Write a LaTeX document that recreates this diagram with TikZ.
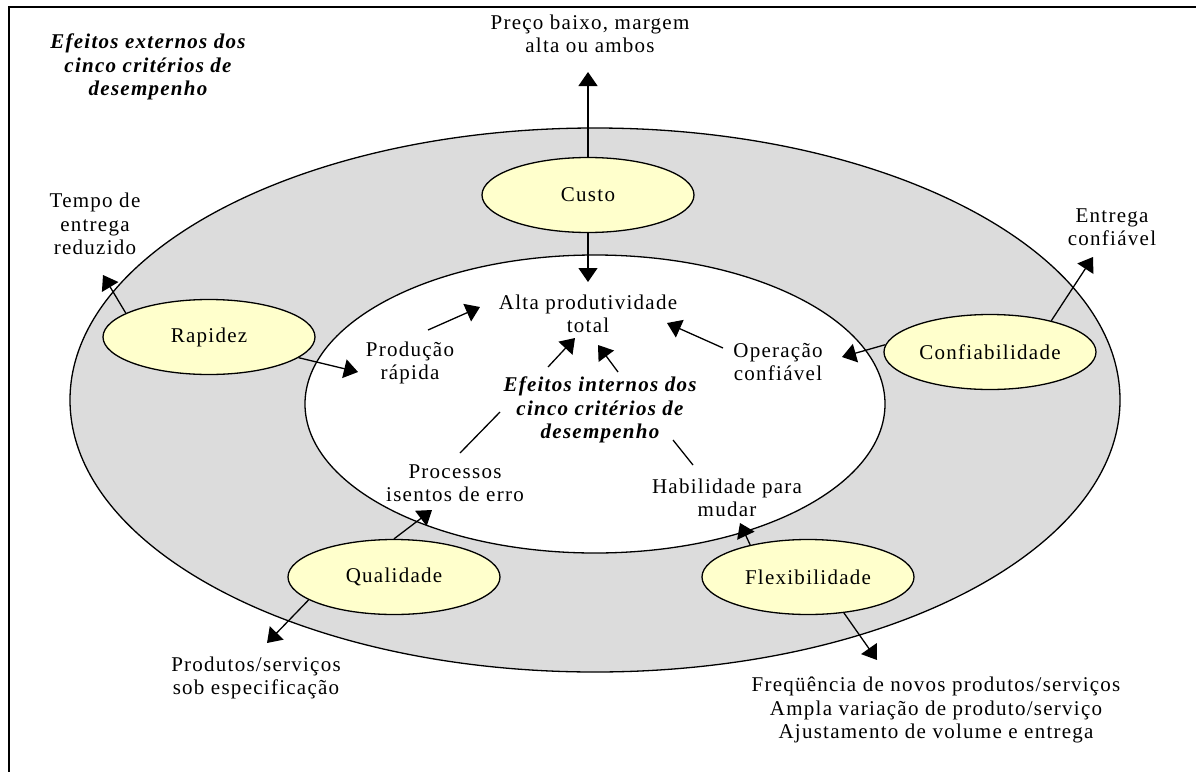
\documentclass[tikz,border=0pt]{standalone}
\usepackage{fontspec}
\setmainfont{Liberation Serif}[LetterSpace=6]
\usetikzlibrary{arrows.meta,shapes.geometric}
\definecolor{ringgray}{HTML}{DCDCDC}
\definecolor{critfill}{HTML}{FFFFCC}
\tikzset{
  crit/.style={ellipse, draw, line width=1.3pt, fill=critfill,
    minimum width=212pt, minimum height=75pt, inner sep=0pt,
    font=\fontsize{21}{23.3}\selectfont},
  lbl/.style={align=center, inner sep=0pt, font=\fontsize{21}{23.3}\selectfont},
  hdr/.style={align=center, inner sep=0pt,
    font=\fontsize{21}{23.3}\selectfont\bfseries\itshape},
  arr/.style={line width=1.3pt, -{Triangle[length=14pt,width=19pt]}},
  ln/.style={line width=1.3pt}
}
\begin{document}
\begin{tikzpicture}[x=1pt,y=-1pt]
  \useasboundingbox (0,0) rectangle (1196,771);
  \clip (0,0) rectangle (1196,771);
  % frame
  \draw[line width=2pt] (9,7) rectangle (1220,800);
  % rings
  \draw[line width=1.3pt, fill=ringgray] (595,400) ellipse [x radius=525pt, y radius=272pt];
  \draw[line width=1.3pt, fill=white] (595,404) ellipse [x radius=290pt, y radius=149pt];

  % headings
  \node[hdr] (ext) at (148,67) {Efeitos externos dos\\cinco critérios de\\desempenho};
  \node[hdr] (int) at (600,410) {Efeitos internos dos\\cinco critérios de\\desempenho};

  % criteria
  \node[crit] (custo) at (588,195) {Custo};
  \node[crit] (rap) at (209,337) {Rapidez};
  \node[crit] (conf) at (990,352) {Confiabilidade};
  \node[crit] (qual) at (394,577) {Qualidade};
  \node[crit] (flex) at (808,577) {Flexibilidade};

  % external effects
  \node[lbl] (preco) at (590,34) {Preço baixo, margem\\alta ou ambos};
  \node[lbl] (tempo) at (95,224) {Tempo de\\entrega\\reduzido};
  \node[lbl] (entrega) at (1112,227) {Entrega\\confiável};
  \node[lbl] (produtos) at (256,678) {Produtos/serviços\\sob especificação};
  \node[lbl] (freq) at (936,710) {Freqüência de novos produtos/serviços\\Ampla variação de produto/serviço\\Ajustamento de volume e entrega};

  % internal effects
  \node[lbl] (alta) at (588,314) {Alta produtividade\\total};
  \node[lbl] (prod) at (410,363) {Produção\\rápida};
  \node[lbl] (oper) at (778,362) {Operação\\confiável};
  \node[lbl] (proc) at (455,483) {Processos\\isentos de erro};
  \node[lbl] (hab) at (727,498) {Habilidade para\\mudar};

  % connector end points
  \coordinate (tPreco) at (588,72);
  \coordinate (tAlta) at (588,282);
  \coordinate (tTempo) at (103,275);
  \coordinate (tProd) at (358,372);
  \coordinate (pProdA) at (428,330);
  \coordinate (tProdA) at (480,307);
  \coordinate (pOperA) at (723,348);
  \coordinate (tOperA) at (667,323);
  \coordinate (tOper) at (842,357);
  \coordinate (tEntrega) at (1093,257);
  \coordinate (pEfL) at (548,367);
  \coordinate (tEfL) at (575,338);
  \coordinate (pEfR) at (618,372);
  \coordinate (tEfR) at (598,345);
  \coordinate (pProcA) at (460,453);
  \coordinate (pProcB) at (500,412);
  \coordinate (pHabA) at (673,440);
  \coordinate (pHabB) at (693,465);
  \coordinate (tProc) at (432,510);
  \coordinate (tProdutos) at (267,643);
  \coordinate (tHab) at (740,523);
  \coordinate (tFreq) at (877,660);

  % connectors
  \draw[arr] (custo.north) -- (tPreco);
  \draw[arr] (custo.south) -- (tAlta);
  \draw[arr] (rap.164) -- (tTempo);
  \draw[arr] (rap.-13) -- (tProd);
  \draw[arr] (pProdA) -- (tProdA);
  \draw[arr] (pOperA) -- (tOperA);
  \draw[arr] (conf.176) -- (tOper);
  \draw[arr] (conf.27) -- (tEntrega);
  \draw[arr] (pEfL) -- (tEfL);
  \draw[arr] (pEfR) -- (tEfR);
  \draw[ln] (pProcA) -- (pProcB);
  \draw[ln] (pHabA) -- (pHabB);
  \draw[arr] (qual.north) -- (tProc);
  \draw[arr] (qual.195) -- (tProdutos);
  \draw[arr] (flex.151) -- (tHab);
  \draw[arr] (flex.-45) -- (tFreq);
\end{tikzpicture}
\end{document}
